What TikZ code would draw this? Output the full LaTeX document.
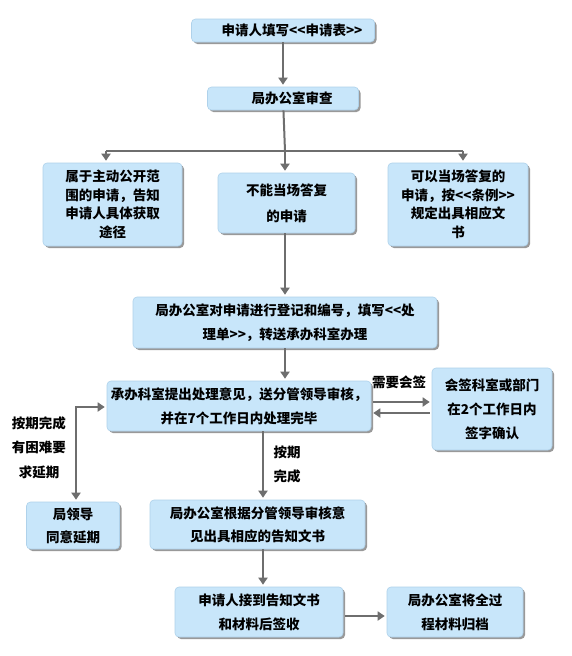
\documentclass[tikz,border=0pt]{standalone}
\usepackage{fontspec}
\usetikzlibrary{arrows.meta, shadows}
\newfontfamily\cjk{Noto Sans CJK SC}
\definecolor{bfill}{RGB}{200,230,250}
\definecolor{bline}{RGB}{175,210,235}
\definecolor{lgray}{RGB}{110,110,110}

\begin{document}
\begin{tikzpicture}[x=1pt,y=-1pt,
  >={Triangle[width=9pt,length=7pt]},
  box/.style={rectangle,rounded corners=4pt,fill=bfill,draw=bline,line width=0.6pt,
              drop shadow={shadow xshift=2pt,shadow yshift=-2pt,fill=black!40,opacity=1},
              font=\cjk\bfseries\fontsize{13.5}{24}\selectfont,align=center,inner sep=0pt},
  arr/.style={->,lgray,line width=2pt,shorten >=2pt},
  lbl/.style={font=\cjk\bfseries\fontsize{13.5}{24.5}\selectfont,align=center}
]
\useasboundingbox (0,0) rectangle (571,656);
\fill[white] (0,0) rectangle (571,656);

% top
\node[box,minimum width=183pt,minimum height=23pt] (apply)  at (283,30.5) {\hspace*{18pt}申请人填写<{}<申请表>{}>};
\node[box,minimum width=151pt,minimum height=23pt] (review) at (283,98.5) {\hspace*{18pt}局办公室审查};

% three cases
\node[box,minimum width=139pt,minimum height=83pt,font=\cjk\bfseries\fontsize{13.5}{18.5}\selectfont] (public) at (112.5,204.5)
  {属于主动公开范\\围的申请，告知\\申请人具体获取\\途径};
\node[box,minimum width=137pt,minimum height=60pt,font=\cjk\bfseries\fontsize{13.5}{26}\selectfont] (noreply) at (286.5,203)
  {不能当场答复\\的申请};
\node[box,minimum width=140pt,minimum height=83pt,font=\cjk\bfseries\fontsize{13.5}{18.5}\selectfont] (reply) at (458,204.5)
  {可以当场答复的\\申请，按<{}<条例>{}>\\规定出具相应文\\书};

% processing
\node[box,minimum width=304pt,minimum height=51pt] (register) at (285,322.5)
  {局办公室对申请进行登记和编号，填写<{}<处\\理单>{}>，转送承办科室办理};
\node[box,minimum width=264pt,minimum height=50pt] (handle) at (239,406)
  {承办科室提出处理意见，送分管领导审核，\\并在7个工作日内处理完毕};
\node[box,minimum width=120pt,minimum height=82pt] (cosign) at (492,409)
  {会签科室或部门\\在2个工作日内\\签字确认};
\node[box,minimum width=93pt,minimum height=47pt,font=\cjk\bfseries\fontsize{13.5}{23}\selectfont] (extend) at (73,525.5)
  {局领导\\同意延期};
\node[box,minimum width=215pt,minimum height=49pt,font=\cjk\bfseries\fontsize{13.5}{23}\selectfont] (notice) at (257.5,524.5)
  {局办公室根据分管领导审核意\\见出具相应的告知文书};
\node[box,minimum width=168pt,minimum height=50pt] (receive) at (259,612)
  {申请人接到告知文书\\和材料后签收};
\node[box,minimum width=136pt,minimum height=50pt] (archive) at (455,612)
  {局办公室将全过\\程材料归档};

% labels
\node[lbl] (need)   at (399,382)   {需要会签};
\node[lbl] (delay)  at (39,447.5)  {按期完成\\有困难要\\求延期};
\node[lbl] (ontime) at (287,464.5) {按期\\完成};

% connectors
\coordinate (jL) at (106,151);
\coordinate (jM) at (285,151);
\coordinate (jR) at (463,151);
\coordinate (bend) at (76,407);
\coordinate (col) at (263,0);

\draw[arr] (apply) -- (review);
\draw[lgray,line width=2pt] (review) -- (jM);
\draw[lgray,line width=2pt] (jL) -- (jR);
\draw[arr] (jL) -- (jL |- public.north);
\draw[arr] (jM) -- (jM |- noreply.north);
\draw[arr] (jR) -- (jR |- reply.north);
\draw[arr] (jM |- noreply.south) -- (jM |- register.north);
\draw[arr] (jM |- register.south) -- (jM |- handle.north);
\draw[arr,shorten <=2pt] (handle.east |- 0,402) -- (cosign.west |- 0,402);
\draw[arr,shorten <=2pt] (cosign.west |- 0,413) -- (handle.east |- 0,413);
\draw[arr,<->,shorten <=2pt] (handle.west |- bend) -- (bend) -- (bend |- extend.north);
\draw[arr] (col |- handle.south) -- (col |- notice.north);
\draw[arr] (col |- notice.south) -- (col |- receive.north);
\draw[arr,shorten <=2pt] (receive.east |- 0,616) -- (archive.west |- 0,616);
\end{tikzpicture}
\end{document}
